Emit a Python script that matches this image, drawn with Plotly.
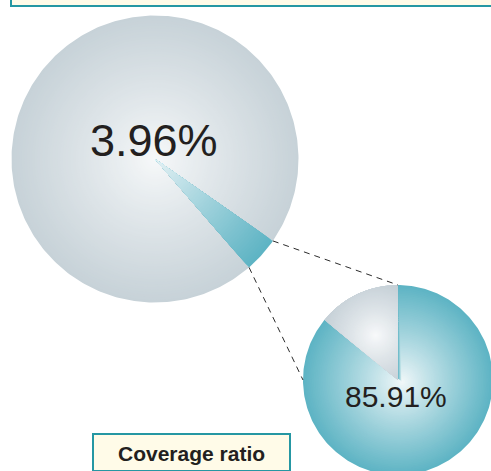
import numpy as np
import plotly.graph_objects as go

W, H = 491, 471

# Share of the whole that is covered, and the breakdown of that covered part
overall_labels = ["Covered", "Other"]
overall_share = [3.96, 96.04]
detail_labels = ["Covered", "Not covered"]
detail_share = [85.91, 14.09]
caption = "Coverage ratio"

# Geometry in pixel units (y grows downward); angles clockwise from 12 o'clock
BIG_C, BIG_R, BIG_START = (155.0, 159.0), 143.5, 124.8
SMALL_C, SMALL_R, SMALL_START = (398.0, 380.0), 95.0, 0.0

TEAL_EDGE = (94, 180, 196)
GRAY_EDGE = (199, 210, 216)
FONT = "Liberation Sans, Arial, Helvetica, sans-serif"


def arc_point(c, r, ang):
    a = np.radians(ang)
    return c[0] + r * np.sin(a), c[1] - r * np.cos(a)


def sector(c, r, a0, a1):
    n = max(10, int(abs(a1 - a0) / 1.0))
    th = np.radians(np.linspace(a0, a1, n))
    xs = c[0] + r * np.sin(th)
    ys = c[1] - r * np.cos(th)
    return (np.concatenate([[c[0]], xs, [c[0]]]),
            np.concatenate([[c[1]], ys, [c[1]]]))


def mix(inner, outer, t):
    return "rgb(%d,%d,%d)" % tuple(int(round(inner[i] + (outer[i] - inner[i]) * t)) for i in range(3))


def add_fill(fig, xs, ys, color):
    fig.add_trace(go.Scatter(
        x=xs, y=ys, mode="lines", fill="toself", fillcolor=color,
        line=dict(width=0, color="rgba(0,0,0,0)"),
        hoverinfo="skip", showlegend=False))


def shade(fig, xs, ys, focus, inner, outer, steps=56, gamma=0.9):
    """Gradient fill made of nested copies of the polygon scaled about a focus."""
    fx, fy = focus
    for k in range(steps):
        s = 1.0 - k / steps
        add_fill(fig, fx + s * (xs - fx), fy + s * (ys - fy), mix(inner, outer, s ** gamma))


def clip_convex(subject, clip):
    """Sutherland-Hodgman clipping of a polygon against a convex polygon."""
    cx, cy = clip
    area = 0.5 * np.sum(cx[:-1] * cy[1:] - cx[1:] * cy[:-1])
    sign = 1.0 if area > 0 else -1.0
    out = list(subject)
    m = len(cx) - 1
    for i in range(m):
        ax, ay, bx, by = cx[i], cy[i], cx[i + 1], cy[i + 1]
        if abs(ax - bx) < 1e-9 and abs(ay - by) < 1e-9:
            continue

        def side(p):
            return sign * ((bx - ax) * (p[1] - ay) - (by - ay) * (p[0] - ax))

        src, out = out, []
        if not src:
            break
        prev = src[-1]
        for cur in src:
            sc, sp = side(cur), side(prev)
            if sc >= 0:
                if sp < 0:
                    t = sp / (sp - sc)
                    out.append((prev[0] + t * (cur[0] - prev[0]), prev[1] + t * (cur[1] - prev[1])))
                out.append(cur)
            elif sp >= 0:
                t = sp / (sp - sc)
                out.append((prev[0] + t * (cur[0] - prev[0]), prev[1] + t * (cur[1] - prev[1])))
            prev = cur
    return out


def radial_shade(fig, xs, ys, focus, inner, outer, steps=56, gamma=0.9):
    """True radial gradient about a focus, clipped to a convex slice."""
    fx, fy = focus
    rmax = np.max(np.hypot(xs - fx, ys - fy))
    add_fill(fig, xs, ys, mix(inner, outer, 1.0))
    th = np.linspace(0, 2 * np.pi, 120, endpoint=False)
    for k in range(1, steps):
        s = 1.0 - k / steps
        rho = s * rmax
        circ = [(fx + rho * np.cos(a), fy + rho * np.sin(a)) for a in th]
        poly = clip_convex(circ, (xs, ys))
        if len(poly) < 3:
            continue
        px = [p[0] for p in poly] + [poly[0][0]]
        py = [p[1] for p in poly] + [poly[0][1]]
        add_fill(fig, px, py, mix(inner, outer, s ** gamma))


fig = go.Figure()

# Large pie: overall share
a0 = BIG_START
a1 = a0 + overall_share[0] / 100 * 360
big_gray = sector(BIG_C, BIG_R, a1, a0 + 360)
big_teal = sector(BIG_C, BIG_R, a0, a1)
shade(fig, *big_gray, BIG_C, (247, 249, 250), GRAY_EDGE)
shade(fig, *big_teal, BIG_C, (232, 243, 246), TEAL_EDGE)

# Small pie: breakdown of the covered part
b0 = SMALL_START
b1 = b0 + detail_share[0] / 100 * 360
small_teal = sector(SMALL_C, SMALL_R, b0, b1)
small_gray = sector(SMALL_C, SMALL_R, b1, b0 + 360)
mid = np.radians((b1 + b0 + 360) / 2)
gray_focus = (SMALL_C[0] + 0.55 * SMALL_R * np.sin(mid), SMALL_C[1] - 0.52 * SMALL_R * np.cos(mid))
shade(fig, *small_teal, (SMALL_C[0] + 4, SMALL_C[1] + 2), (244, 249, 250), TEAL_EDGE)
radial_shade(fig, *small_gray, gray_focus, (250, 251, 252), (196, 207, 214), steps=48, gamma=0.85)

# Connector lines from the slice edges to the detail pie
p_a = arc_point(BIG_C, BIG_R, a0)
p_b = arc_point(BIG_C, BIG_R, a1)
q_a = arc_point(SMALL_C, SMALL_R, 0)
q_b = arc_point(SMALL_C, SMALL_R, 270)
for (p, q) in [(p_a, q_a), (p_b, q_b)]:
    fig.add_shape(type="line", x0=p[0], y0=p[1], x1=q[0], y1=q[1],
                  line=dict(color="#2b2b2b", width=1, dash="6px,5px"), layer="above")

# Header strip and caption box
fig.add_shape(type="rect", x0=11, x1=500, y0=-30, y1=6,
              fillcolor="#fffbe8", line=dict(color="#2597a3", width=2), layer="above")
fig.add_shape(type="rect", x0=93, x1=290, y0=434, y1=471,
              fillcolor="#fffbe8", line=dict(color="#2597a3", width=2), layer="above")

fig.add_annotation(x=191.5, y=453, text="<b>%s</b>" % caption, showarrow=False,
                   font=dict(family=FONT, size=21, color="#231f20"))
fig.add_annotation(x=153.5, y=140, text="%.2f%%" % overall_share[0], showarrow=False,
                   font=dict(family=FONT, size=45, color="#231f20"))
fig.add_annotation(x=396, y=396, text="%.2f%%" % detail_share[0], showarrow=False,
                   font=dict(family=FONT, size=30, color="#231f20"))

fig.update_xaxes(range=[0, W], visible=False, fixedrange=True)
fig.update_yaxes(range=[H, 0], visible=False, fixedrange=True)
fig.update_layout(width=W, height=H, margin=dict(l=0, r=0, t=0, b=0),
                  paper_bgcolor="white", plot_bgcolor="white", showlegend=False)

fig.write_html("out.html", config={"displayModeBar": False})
